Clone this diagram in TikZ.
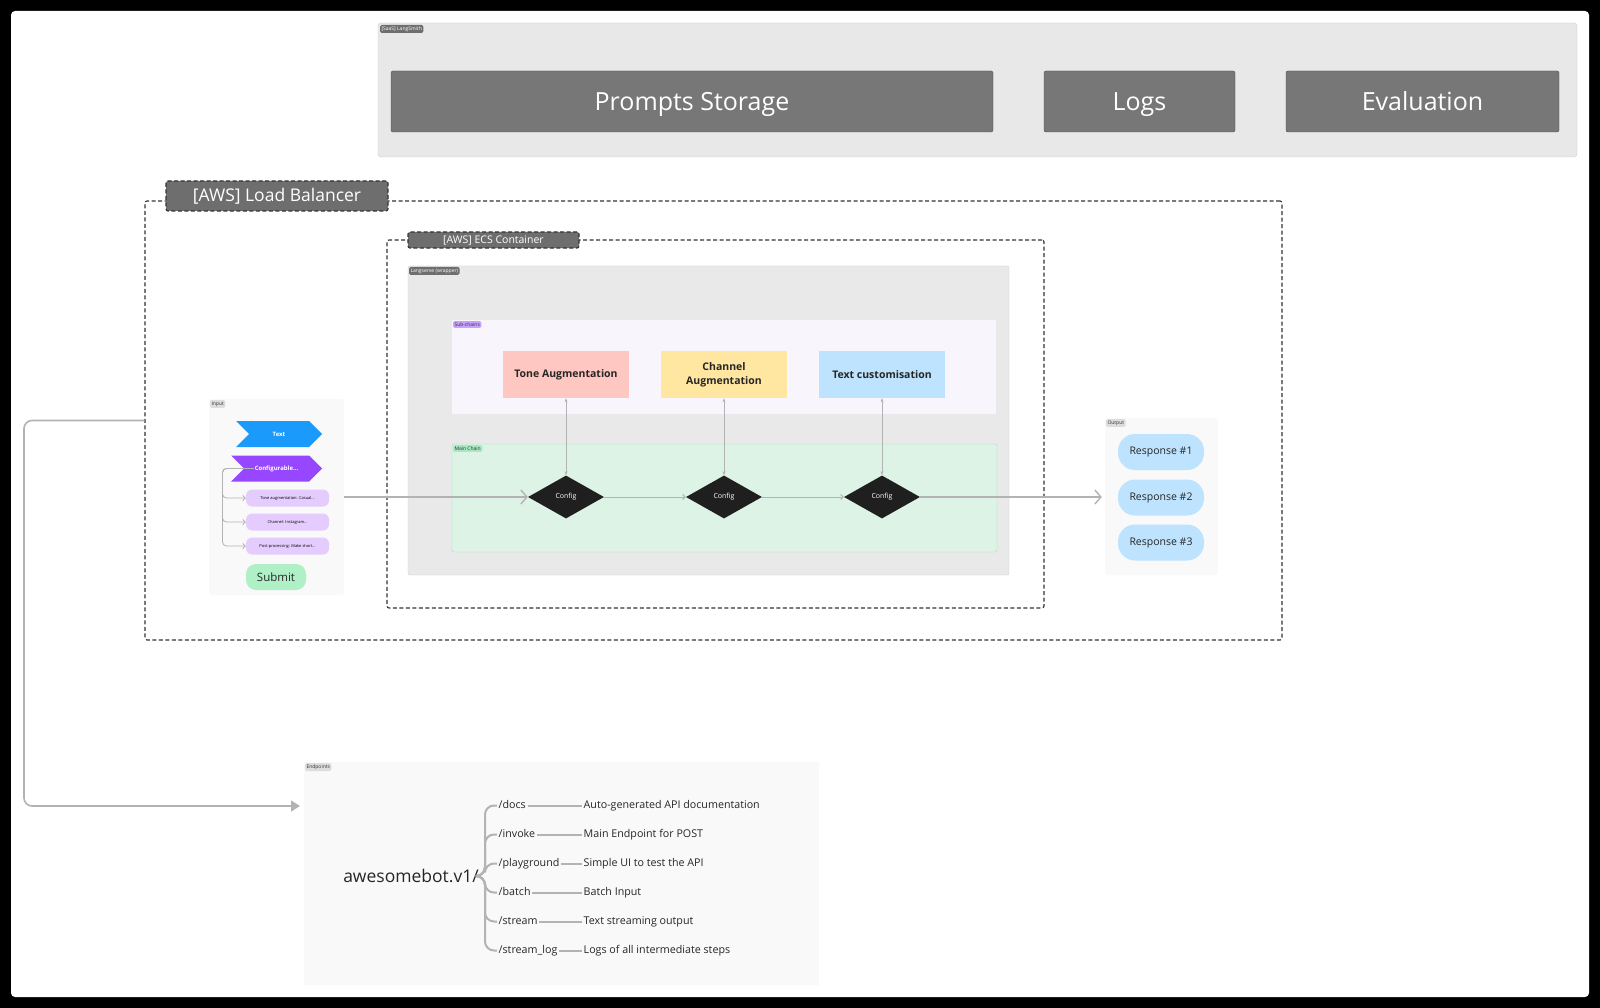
\documentclass[tikz,border=0pt]{standalone}
\usepackage{fontspec}
\setmainfont{Open Sans}
\usetikzlibrary{
  arrows.meta,
  positioning,
  shapes.geometric,
  shapes.symbols
}
\definecolor{smithbg}{HTML}{E8E8E8}
\definecolor{smithline}{HTML}{CFCFCF}
\definecolor{darkfill}{HTML}{777777}
\definecolor{darkline}{HTML}{4A4A4A}
\definecolor{tagdark}{HTML}{6E6E6E}
\definecolor{wrapbg}{HTML}{E9E9E9}
\definecolor{subbg}{HTML}{F8F5FD}
\definecolor{tonebg}{HTML}{FFC7C2}
\definecolor{chanbg}{HTML}{FFE7A1}
\definecolor{custbg}{HTML}{BDE3FE}
\definecolor{mainbg}{HTML}{DCF3E5}
\definecolor{mainline}{HTML}{A9DDBF}
\definecolor{maintag}{HTML}{A7E8C0}
\definecolor{subtag}{HTML}{C8A1FF}
\definecolor{panelbg}{HTML}{F9F9F9}
\definecolor{lighttag}{HTML}{DDDDDD}
\definecolor{blueflag}{HTML}{1A9BFC}
\definecolor{purpleflag}{HTML}{9747FF}
\definecolor{pillbg}{HTML}{E4CCFF}
\definecolor{submitbg}{HTML}{AFF0C6}
\definecolor{linkgray}{HTML}{B3B3B3}
\tikzset{
  >=stealth,
  line cap=round,
  line join=round,
  darkbox/.style={draw=darkline, fill=darkfill, rounded corners=2, text=white,
    text height=18pt, text depth=0pt,
    font=\fontsize{25}{30}\selectfont, minimum height=61},
  frame/.style={draw=black!80, dash pattern=on 4pt off 2.5pt, line width=1.1, rounded corners=2},
  tag/.style={rounded corners=1.5, inner sep=1.5, anchor=north west,
    font=\fontsize{5}{5}\selectfont},
  flag/.style={signal, signal to=east, signal from=west, text=white, inner sep=0,
    minimum height=26, font=\bfseries\fontsize{6}{7}\selectfont},
  pill/.style={fill=pillbg, rounded corners=6, minimum width=83, minimum height=17,
    font=\fontsize{4}{4}\selectfont},
  subbox/.style={minimum width=126, minimum height=47, align=center, text=black!85,
    font=\bfseries\fontsize{10.5}{14}\selectfont},
  config/.style={diamond, fill=black!88, text=white, aspect=1.77, inner sep=0,
    minimum width=76, minimum height=43, font=\fontsize{7}{8}\selectfont},
  response/.style={fill=custbg, rounded corners=17, minimum width=86, minimum height=36,
    text=black!85, font=\fontsize{10.5}{13}\selectfont},
  flow/.style={draw=linkgray, line width=1.4, -{Straight Barb[length=6pt, width=14pt]}},
  hop/.style={draw=linkgray, line width=1, -{Straight Barb[length=2.5pt, width=5pt]}},
  both/.style={draw=linkgray, line width=0.8, {Stealth[length=4pt, width=3pt]}-{Stealth[length=4pt, width=3pt]}},
  sublink/.style={draw=linkgray, line width=0.8, rounded corners=4, -{Straight Barb[length=2.5pt, width=5pt]}},
  tree/.style={draw=linkgray, line width=2, rounded corners=9},
  endpoint/.style={anchor=west, inner sep=1.5, text height=8pt, text depth=2.5pt,
    font=\fontsize{10.7}{13}\selectfont, text=black!85}
}

\begin{document}
\begin{tikzpicture}[x=1pt, y=-1pt]

% 배경
\fill[black] (0,0) rectangle (1600,1008);
\fill[white, rounded corners=4] (11,11) rectangle (1589,997);
\useasboundingbox (0,0) rectangle (1600,1008);

% LangSmith
\node (smith) [fill=smithbg, draw=smithline, rounded corners=3, minimum width=1199, minimum height=134] at (977.5,90) {};
\node[tag, fill=tagdark, text=white] at ([shift={(2,2)}]smith.north west) {[SaaS] LangSmith};
\node (prompts) [darkbox, minimum width=602] at (692,101.5) {Prompts Storage};
\node (logs) [darkbox, minimum width=191] at (1139.5,101.5) {Logs};
\node (eval) [darkbox, minimum width=273] at (1422.5,101.5) {Evaluation};

% Load balancer / ECS
\node (lb) [frame, minimum width=1137, minimum height=439] at (713.5,420.5) {};
\node (lblabel) [frame, fill=tagdark, text=white, minimum width=222, minimum height=30,
  font=\fontsize{17.5}{20}\selectfont] at (277,196) {[AWS] Load Balancer};
\node (ecs) [frame, minimum width=657, minimum height=368] at (715.5,424) {};
\node (ecslabel) [frame, fill=tagdark, text=white, minimum width=171, minimum height=16,
  font=\fontsize{10.5}{12}\selectfont] at (493.5,240) {[AWS] ECS Container};

% Langserve
\node (serve) [fill=wrapbg, draw=smithline, rounded corners=2, minimum width=601, minimum height=309] at (708.5,420.5) {};
\node[tag, fill=tagdark, text=white] at ([shift={(1,1)}]serve.north west) {Langserve (wrapper)};

\node (sub) [fill=subbg, minimum width=544, minimum height=94] at (724,367) {};
\node[tag, fill=subtag, text=black!80] at ([shift={(1,1)}]sub.north west) {Sub-chains};
\node (tone) [subbox, fill=tonebg] at (566,374.5) {Tone Augmentation};
\node (chan) [subbox, fill=chanbg] at (724,374.5) {Channel\\Augmentation};
\node (cust) [subbox, fill=custbg] at (882,374.5) {Text customisation};

\node (main) [fill=mainbg, draw=mainline, rounded corners=2, minimum width=545, minimum height=108] at (724.5,498) {};
\node[tag, fill=maintag, text=black!80] at ([shift={(1,1)}]main.north west) {Main Chain};
\node (cfg1) [config] at (566,497) {Config};
\node (cfg2) [config] at (724,497) {Config};
\node (cfg3) [config] at (882,497) {Config};

% Input
\node (inp) [fill=panelbg, rounded corners=3, minimum width=135, minimum height=196] at (276.5,497) {};
\node[tag, fill=lighttag, text=black!80] at ([shift={(1,1)}]inp.north west) {Input};
\node (txt) [flag, fill=blueflag, minimum width=86] at (279,434) {Text};
\node (cfg) [flag, fill=purpleflag, minimum width=91] at (276.5,468.5) {Configurable...};
\node (p1) [pill] at (287.5,498) {Tone augmentation: Casual...};
\node (p2) [pill] at (287.5,522) {Channel: Instagram...};
\node (p3) [pill] at (287.5,546) {Post-processing: Make short...};
\node (submit) [fill=submitbg, rounded corners=10, minimum width=60, minimum height=26,
  text=black!85, font=\fontsize{11.5}{13}\selectfont] at (276,577) {Submit};

\foreach \p in {p1,p2,p3}
  \draw[sublink] ([xshift=10]cfg.west) -- (222.5,468.5) |- (\p.west);

% Output
\node (outp) [fill=panelbg, rounded corners=3, minimum width=113, minimum height=157] at (1161.5,496.5) {};
\node[tag, fill=lighttag, text=black!80] at ([shift={(1,1)}]outp.north west) {Output};
\node (r1) [response] at (1161,452) {Response \#1};
\node (r2) [response] at (1161,497.5) {Response \#2};
\node (r3) [response] at (1161,542.5) {Response \#3};

% 연결
\draw[flow] (inp.east) -- (cfg1.west);
\draw[hop] (cfg1.east) -- (cfg2.west);
\draw[hop] (cfg2.east) -- (cfg3.west);
\draw[flow, shorten >=3pt] (cfg3.east) -- (outp.west |- cfg3.east);
\draw[both] (tone.south) -- (cfg1.north);
\draw[both] (chan.south) -- (cfg2.north);
\draw[both] (cust.south) -- (cfg3.north);

% Endpoints
\node (ep) [fill=panelbg, minimum width=515, minimum height=223] at (561.5,873.5) {};
\node[tag, fill=lighttag, text=black!80] at ([shift={(1,1)}]ep.north west) {Endpoints};
\coordinate (epin) at (300,806);
\draw[draw=linkgray, line width=1.6, rounded corners=8, -{Triangle[length=9pt, width=11pt]}]
  (lb.west) -- (24,420.5) |- (epin);

\node (bot) [font=\fontsize{17.5}{20}\selectfont, text=black!85] at (411,876) {awesomebot.v1/};
\coordinate (root) at (479,876);
\foreach \n/\y/\route/\what in {
    docs/805.5/{/docs}/{Auto-generated API documentation},
    invoke/834.5/{/invoke}/{Main Endpoint for POST},
    play/863.5/{/playground}/{Simple UI to test the API},
    batch/892.5/{/batch}/{Batch Input},
    stream/921.5/{/stream}/{Text streaming output},
    log/950.5/{/stream\_log}/{Logs of all intermediate steps}} {
  \node (e\n) [endpoint] at (497,\y) {\route};
  \node (d\n) [endpoint] at (582,\y) {\what};
  \draw[tree] (root) -- ++(6,0) |- (e\n.west);
  \draw[draw=linkgray, line width=2] (e\n.east) -- (d\n.west);
}

\end{tikzpicture}
\end{document}
